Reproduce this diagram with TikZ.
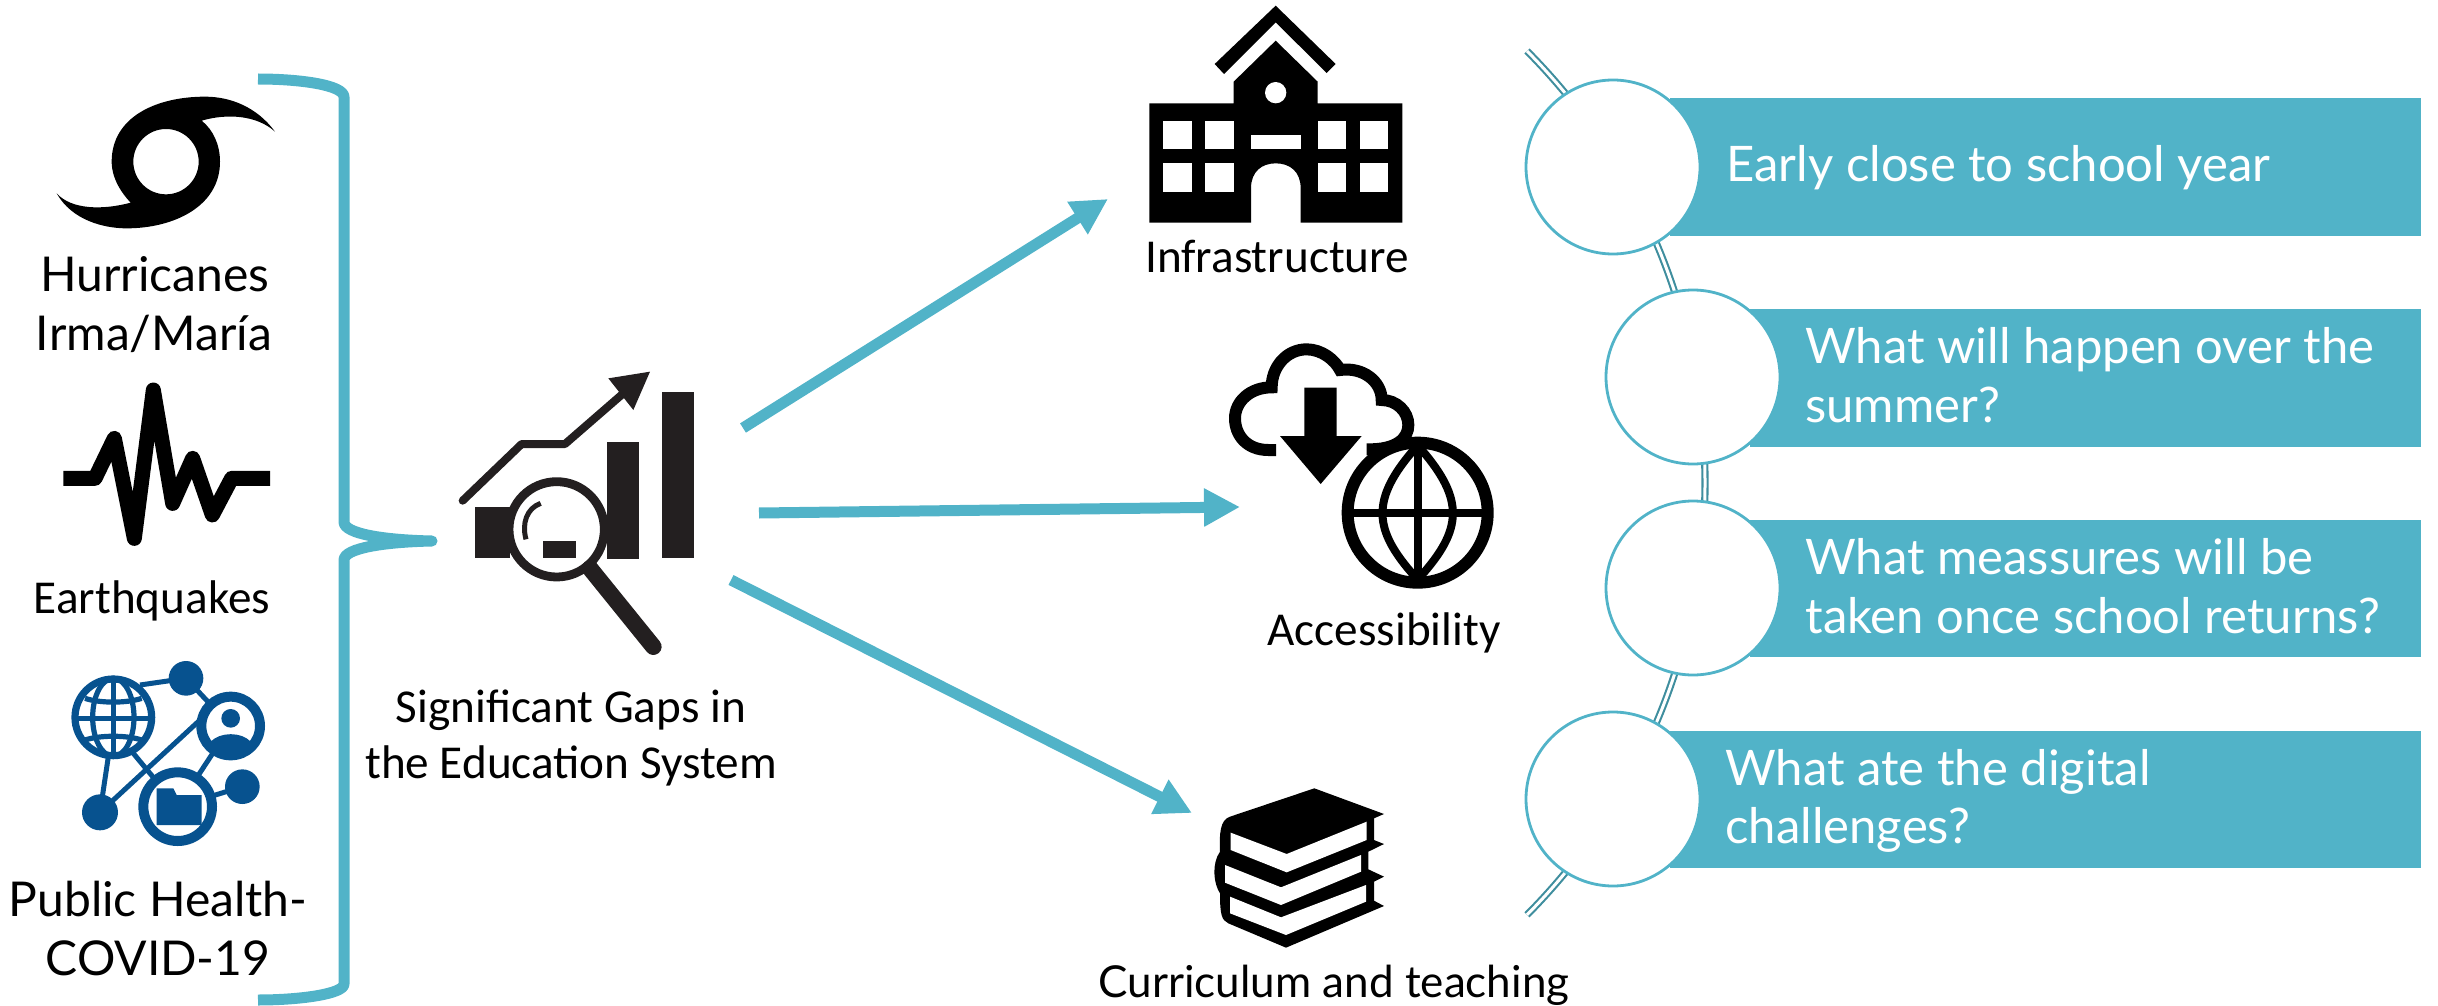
\documentclass[tikz,border=0pt]{standalone}
\usepackage{fontspec}
\usetikzlibrary{arrows.meta}
\setmainfont{Lato}
\newfontfamily\avnfnt{Lato}
\newfontfamily\calfnt{Carlito}
\definecolor{teal1}{HTML}{51B3C8}
\definecolor{teal2}{HTML}{3F8E9E}
\definecolor{netblue}{HTML}{07528F}
\definecolor{chartk}{HTML}{231F20}
\tikzset{
  zoomunits/.style={x=0.16667pt,y=-0.16667pt},
  bracketline/.style={draw=teal1,line width=5.5pt,line join=round},
  flowline/.style={draw=teal1,line width=5.5pt,-{Triangle[length=18pt,width=18pt]}},
  barbox/.style={rectangle,fill=teal1,inner sep=0pt,anchor=north west},
  discnode/.style={circle,fill=white,draw=teal1,line width=1.4pt,minimum size=87pt,inner sep=0pt},
  spineline/.style={draw=teal2,line width=1.05pt,double=white,double distance=1.5pt},
  avnlab/.style={font=\avnfnt\fontsize{24}{29.5}\selectfont,anchor=base,align=center,inner sep=0pt},
  avnsmall/.style={font=\avnfnt\fontsize{22}{29.5}\selectfont,anchor=base,align=center,inner sep=0pt},
  callab/.style={font=\calfnt\fontsize{23.6}{28}\selectfont,anchor=base,align=center,inner sep=0pt},
  bartext/.style={font=\avnfnt\fontsize{24.5}{29.3}\selectfont,text=white,anchor=base west,align=left,inner sep=0pt},
}
\begin{document}
\begin{tikzpicture}[x=0.5pt,y=-0.5pt]
\useasboundingbox (0,0) rectangle (2438,1006);

% ---- bracket
\draw[bracketline] (258,79) .. controls (300,79) and (344,85) .. (344,97) -- (344,522)
  .. controls (344,534) and (385,540) .. (432,541)
  .. controls (385,542) and (344,548) .. (344,560) -- (344,984)
  .. controls (344,994) and (300,1000) .. (258,1000);

% ---- hurricane
\begin{scope}[shift={(0,50)},zoomunits]
\fill[even odd rule] (825,245) .. controls (770,170) and (690,140) .. (615,140)
  .. controls (470,140) and (335,200) .. (335,335)
  .. controls (335,385) and (365,430) .. (392,458)
  .. controls (310,480) and (215,480) .. (170,430)
  .. controls (215,510) and (310,535) .. (380,535)
  .. controls (520,535) and (660,470) .. (660,335)
  .. controls (660,285) and (640,240) .. (605,212)
  .. controls (680,190) and (770,195) .. (825,245) -- cycle
  (498,335) circle[radius=98];
% ---- seismic
\draw[line width=7.5pt,line join=round] (190,1285) -- (285,1285) -- (343,1165) -- (403,1465)
  -- (460,1020) -- (518,1360) -- (578,1225) -- (637,1395) -- (695,1285) -- (810,1285);
\end{scope}

% ---- network icon
\begin{scope}[shift={(0,550)},zoomunits,netblue]
\draw[line width=2.5pt] (420,405) -- (558,385) -- (692,528);
\draw[line width=2.5pt] (325,620) -- (300,787);
\draw[line width=2.5pt] (300,787) -- (600,510);
\draw[line width=2.5pt] (400,610) -- (533,770) -- (692,528);
\draw[line width=2.5pt] (533,770) -- (727,710);
\fill (558,385) circle[radius=52];
\fill (300,787) circle[radius=54];
\fill (727,710) circle[radius=52];
\draw[line width=3.6pt,fill=white] (340,502) circle[radius=115];
\draw[line width=2.6pt] (340,502) ellipse[x radius=62,y radius=117];
\draw[line width=2.6pt] (340,385) -- (340,620) (225,505) -- (455,505);
\draw[line width=2.6pt] (255,445) .. controls (300,460) and (380,460) .. (425,445);
\draw[line width=2.6pt] (255,570) .. controls (300,555) and (380,555) .. (425,570);
\draw[line width=5pt,fill=white] (692,528) circle[radius=88];
\fill (692,505) circle[radius=28];
\fill (632,575) .. controls (660,545) and (725,545) .. (752,575) -- (752,610) -- (632,610) -- cycle;
\draw[line width=5pt,fill=white] (533,770) circle[radius=103];
\fill (470,715) -- (520,715) -- (530,735) -- (605,735) -- (605,825) -- (470,825) -- cycle;
\end{scope}

% ---- chart icon
\begin{scope}[shift={(420,330)},zoomunits,chartk]
\fill (165,532) rectangle (270,685);
\fill (560,335) rectangle (657,688);
\fill (725,185) rectangle (822,685);
\draw[line width=4pt,line cap=round,line join=round] (128,512) -- (305,342) -- (435,342) -- (610,190);
\fill (565,145) -- (690,125) -- (640,240) -- cycle;
\draw[line width=4.4pt,fill=white] (410,598) circle[radius=143];
\draw[line width=8.3pt,line cap=round] (510,715) -- (700,950);
\fill (370,632) rectangle (468,685);
\draw[line width=2.5pt] (362,520) .. controls (320,535) and (305,580) .. (318,628);
\end{scope}

% ---- school
\begin{scope}[shift={(1120,0)},zoomunits]
\fill (467,17) -- (647,192) -- (620,219) -- (467,67) -- (312,222) -- (284,192) -- cycle;
\fill (467,122) -- (593,245) -- (593,310) -- (847,310) -- (847,668) -- (542,668) -- (542,565)
  .. controls (542,515) and (510,490) .. (467,490) .. controls (425,490) and (393,515) .. (393,565)
  -- (393,668) -- (88,668) -- (88,310) -- (341,310) -- (341,245) -- cycle;
\fill[white] (467,278) circle[radius=32];
\fill[white] (393,405) rectangle (542,447);
\foreach \xa in {130,256,593,720}{
  \fill[white] (\xa,363) rectangle ++(85,84);
  \fill[white] (\xa,490) rectangle ++(85,85);
}
\end{scope}

% ---- cloud and globe
\begin{scope}[shift={(1200,340)},zoomunits]
\draw[line width=6pt] (228,330) -- (205,330) .. controls (140,330) and (105,285) .. (105,235)
  .. controls (105,185) and (150,142) .. (215,142)
  .. controls (215,80) and (260,28) .. (320,28)
  .. controls (365,28) and (405,60) .. (420,90)
  .. controls (490,80) and (545,125) .. (545,180)
  .. controls (590,180) and (625,215) .. (625,255)
  .. controls (625,295) and (590,330) .. (500,328);
\fill (313,143) -- (410,143) -- (410,288) -- (485,288) -- (362,432) -- (240,288) -- (313,288) -- cycle;
\draw[line width=6pt,fill=white] (653,518) circle[radius=210];
\draw[line width=4pt] (653,308) -- (653,728) (443,518) -- (863,518);
\draw[line width=4pt] (645,325) .. controls (510,480) and (520,570) .. (645,710);
\draw[line width=4pt] (661,325) .. controls (796,480) and (786,570) .. (661,710);
\end{scope}

% ---- books
\begin{scope}[shift={(1180,770)},zoomunits]
\fill (403,55) -- (612,132) -- (582,145) -- (582,210) -- (612,222) -- (565,245) -- (565,298)
  -- (612,320) -- (582,335) -- (582,392) -- (612,408) -- (318,533) -- (145,460)
  .. controls (125,450) and (120,435) .. (120,370)
  .. controls (100,340) and (95,280) .. (120,245)
  .. controls (118,190) and (120,150) .. (150,140) -- cycle;
\fill[white] (152,188) -- (320,252) -- (560,155) -- (560,210) -- (320,307) -- (152,240) -- cycle;
\fill[white] (135,285) -- (303,352) -- (543,255) -- (543,305) -- (303,405) -- (135,338) -- cycle;
\fill[white] (150,380) -- (303,442) -- (558,345) -- (558,395) -- (318,495) -- (150,430) -- cycle;
\end{scope}

% ---- left and centre labels
\node[avnlab] (lHur) at (155,291) {Hurricanes};
\node[avnlab] (lIrm) at (154,350) {Irma/María};
\node[callab] (lEar) at (152,613) {Earthquakes};
\node[avnlab] (lPub) at (158,916) {Public Health-};
\node[avnlab] (lCov) at (158,975) {COVID-19};
\node[callab] (lGap) at (571,722) {Significant Gaps in};
\node[callab] (lEdu) at (571,778) {the Education System};
\node[callab] (lInf) at (1277,272) {Infrastructure};
\node[callab] (lAcc) at (1384,645) {Accessibility};
\node[avnsmall] (lCur) at (1334,997) {Curriculum and teaching};

% ---- flows
\coordinate (fs1) at (743,428);
\coordinate (fe1) at (1108,199);
\coordinate (fs2) at (759,513);
\coordinate (fe2) at (1240,507);
\coordinate (fs3) at (731,580);
\coordinate (fe3) at (1192,813);
\draw[flowline] (fs1) -- (fe1);
\draw[flowline] (fs2) -- (fe2);
\draw[flowline] (fs3) -- (fe3);

% ---- spine, bars, discs
\coordinate (spineTop) at (1527,51);
\draw[spineline] (spineTop) arc[start angle=-44.8,end angle=44.8,radius=613];

\node[barbox,minimum width=375.5pt,minimum height=69pt] (bar1) at (1670,98) {};
\node[barbox,minimum width=335.5pt,minimum height=69pt] (bar2) at (1750,309) {};
\node[barbox,minimum width=335.5pt,minimum height=68.5pt] (bar3) at (1750,520) {};
\node[barbox,minimum width=375.5pt,minimum height=68.5pt] (bar4) at (1670,731) {};

\node[discnode] (c1) at (1613,167) {};
\node[discnode] (c2) at (1693,377) {};
\node[discnode] (c3) at (1693,588) {};
\node[discnode] (c4) at (1613,799) {};

\node[bartext] (t1) at (1726,182) {Early close to school year};
\node[bartext] (t2a) at (1805,363) {What will happen over the};
\node[bartext] (t2b) at (1805,422) {summer?};
\node[bartext] (t3a) at (1805,574) {What meassures will be};
\node[bartext] (t3b) at (1805,633) {taken once school returns?};
\node[bartext] (t4a) at (1725,785) {What ate the digital};
\node[bartext] (t4b) at (1725,843) {challenges?};
\end{tikzpicture}
\end{document}
